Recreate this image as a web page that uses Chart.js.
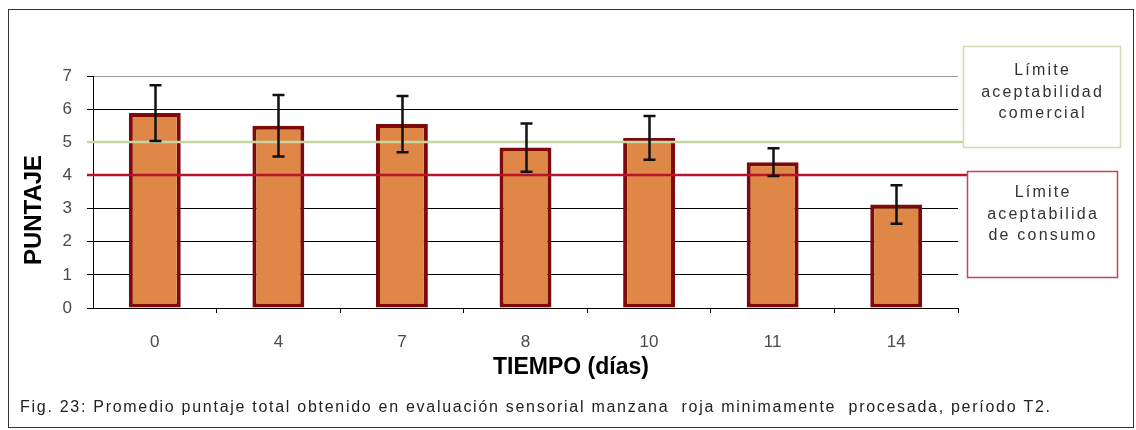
<!DOCTYPE html>
<html>
<head>
<meta charset="utf-8">
<script src="https://cdn.jsdelivr.net/npm/chart.js@4.4.1/dist/chart.umd.min.js"></script>
<style>
  html, body { margin: 0; padding: 0; background: #fff; }
  #wrap { width: 1136px; height: 430px; }
</style>
</head>
<body>
<div id="wrap"><canvas id="chart" width="1136" height="430"></canvas></div>
<script>
// Data
const days = ['0', '4', '7', '8', '10', '11', '14'];
const scores = [5.88, 5.5, 5.55, 4.84, 5.13, 4.4, 3.12];
const errors = [0.84, 0.93, 0.85, 0.73, 0.66, 0.42, 0.58];
const yTicks = [0, 1, 2, 3, 4, 5, 6, 7];
const limitValues = [5, 4];
const limitLabels = [
  ['Límite', 'aceptabilidad', 'comercial'],
  ['Límite', 'aceptabilida', 'de consumo']
];
const yTitle = 'PUNTAJE';
const xTitle = 'TIEMPO (días)';
const caption = 'Fig. 23: Promedio puntaje total obtenido en evaluación sensorial manzana  roja minimamente  procesada, período T2.';

const FONT = '"Liberation Sans", Arial, sans-serif';

// boxes beside the plot, one per limit line
const limitBoxes = [
  { l: 963, t: 46, r: 1120, b: 147, border: '#d3dbb5', line: '#c5d69e', textY: 71 },
  { l: 967, t: 171, r: 1117, b: 277, border: '#c64457', line: '#b8142c', textY: 193 }
];

function spacedText(ctx, text, x, y, spacing) {
  ctx.letterSpacing = spacing + 'px';
  ctx.fillText(text, x + spacing / 2, y);
  ctx.letterSpacing = '0px';
}

const extras = {
  id: 'extras',
  beforeDraw(chart) {
    const ctx = chart.ctx;
    ctx.save();
    ctx.fillStyle = '#fff';
    ctx.fillRect(0, 0, chart.width, chart.height);
    ctx.strokeStyle = '#333';
    ctx.lineWidth = 1;
    ctx.strokeRect(8.5, 9.5, 1125, 418);
    ctx.restore();
  },
  afterDatasetsDraw(chart) {
    const ctx = chart.ctx;
    const yScale = chart.scales.y;
    const area = chart.chartArea;
    ctx.save();

    // limit lines + their boxes
    limitValues.forEach((v, i) => {
      const box = limitBoxes[i];
      const py = Math.round(yScale.getPixelForValue(v));
      ctx.strokeStyle = box.line;
      ctx.lineWidth = 2.5;
      ctx.beginPath();
      ctx.moveTo(area.left - 6, py);
      ctx.lineTo(box.l, py);
      ctx.stroke();

      ctx.strokeStyle = box.border;
      ctx.lineWidth = 1.5;
      ctx.strokeRect(box.l + 0.5, box.t + 0.5, box.r - box.l, box.b - box.t);

      ctx.fillStyle = '#333';
      ctx.font = '16px ' + FONT;
      ctx.textAlign = 'center';
      ctx.textBaseline = 'middle';
      limitLabels[i].forEach((line, j) => {
        spacedText(ctx, line, (box.l + box.r) / 2, box.textY + j * 21.5, 2.2);
      });
    });

    // error bars
    const meta = chart.getDatasetMeta(0);
    ctx.strokeStyle = '#111';
    ctx.lineWidth = 2.5;
    meta.data.forEach((bar, i) => {
      const cx = Math.round(bar.x) + 0.5;
      const top = yScale.getPixelForValue(scores[i] + errors[i]);
      const bot = yScale.getPixelForValue(scores[i] - errors[i]);
      ctx.beginPath();
      ctx.moveTo(cx, top); ctx.lineTo(cx, bot);
      ctx.moveTo(cx - 6, top); ctx.lineTo(cx + 6, top);
      ctx.moveTo(cx - 6, bot); ctx.lineTo(cx + 6, bot);
      ctx.stroke();
    });
    ctx.restore();
  },
  afterDraw(chart) {
    const ctx = chart.ctx;
    ctx.save();
    ctx.fillStyle = '#000';
    ctx.textAlign = 'center';
    ctx.textBaseline = 'middle';

    // axis titles
    ctx.font = 'bold 23px ' + FONT;
    ctx.fillText(xTitle, 571, 368);
    ctx.save();
    ctx.translate(34, 210);
    ctx.rotate(-Math.PI / 2);
    ctx.font = 'bold 24px ' + FONT;
    ctx.fillText(yTitle, 0, 0);
    ctx.restore();

    // caption, spread to the width it takes in the figure
    ctx.fillStyle = '#222';
    ctx.font = '16px ' + FONT;
    ctx.textAlign = 'left';
    const w = ctx.measureText(caption).width;
    const sp = (1030 - w) / (caption.length - 1);
    ctx.letterSpacing = sp + 'px';
    ctx.fillText(caption, 20, 408);
    ctx.restore();
  }
};

new Chart(document.getElementById('chart'), {
  type: 'bar',
  data: {
    labels: days,
    datasets: [{
      data: scores,
      backgroundColor: '#de8747',
      borderColor: '#7d0b0b',
      borderWidth: 4,
      borderSkipped: false,
      barPercentage: 0.42,
      categoryPercentage: 1
    }]
  },
  options: {
    responsive: false,
    animation: false,
    layout: { padding: { left: 0, right: 178, top: 76, bottom: 0 } },
    plugins: { legend: { display: false }, tooltip: { enabled: false } },
    scales: {
      x: {
        grid: {
          offset: true,
          color: c => c.index === 7 ? '#8a8a8a' : 'rgba(0,0,0,0)',
          tickColor: c => c.index === 7 ? '#8a8a8a' : (c.index === 0 ? 'rgba(0,0,0,0)' : '#000'),
          tickLength: 5
        },
        border: { color: '#000', width: 1 },
        ticks: { color: '#4a4a4a', font: { family: FONT, size: 17 }, padding: 19 },
        afterFit: s => { s.height = 122; }
      },
      y: {
        min: 0,
        max: 7,
        afterBuildTicks: s => { s.ticks = yTicks.map(v => ({ value: v })); },
        grid: {
          color: c => (c.tick && c.tick.value === 7) ? '#9a9a9a' : '#000',
          tickColor: '#000',
          tickLength: 6
        },
        border: { color: '#000', width: 1 },
        ticks: { color: '#4a4a4a', font: { family: FONT, size: 17 }, padding: 15 },
        afterFit: s => { s.width = 93; }
      }
    }
  },
  plugins: [extras]
});
</script>
</body>
</html>
